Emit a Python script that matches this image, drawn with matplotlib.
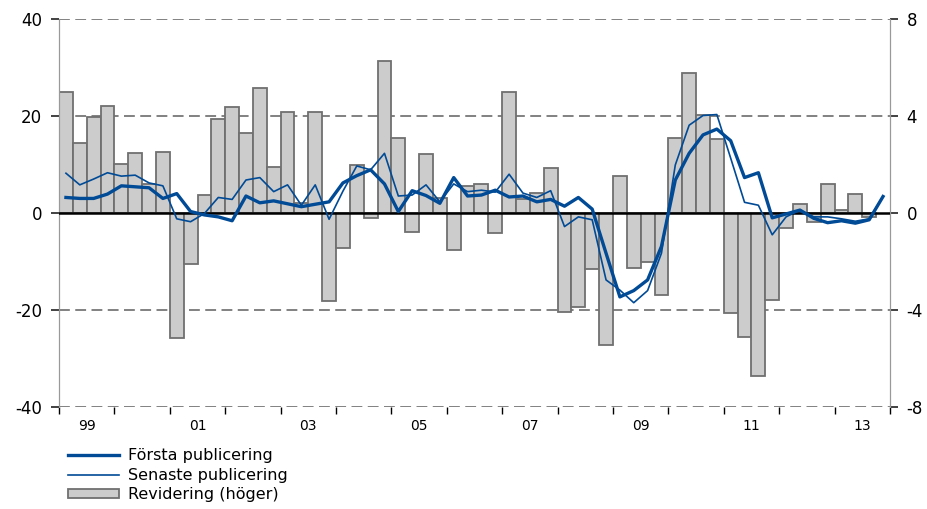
import numpy as np
import matplotlib
matplotlib.use('Agg')
import matplotlib.pyplot as plt
from matplotlib.patches import Patch
from matplotlib.lines import Line2D

plt.rcParams['axes.unicode_minus'] = False

# Quarterly data 1999 Q1 - 2013 Q4
forsta = [3.2, 3.0, 3.0, 3.9, 5.6, 5.4, 5.2, 3.0, 4.0, 0.3,
          -0.4, -0.8, -1.6, 3.5, 2.1, 2.5, 1.9, 1.3, 1.8, 2.3,
          6.2, 7.7, 8.9, 6.0, 0.3, 4.6, 3.6, 2.0, 7.3, 3.5,
          3.7, 4.7, 3.3, 3.5, 2.3, 2.8, 1.4, 3.2, 0.8, -8.3,
          -17.3, -16.0, -13.8, -6.9, 6.8, 12.3, 16.1, 17.3, 14.9, 7.3,
          8.3, -1.0, -0.2, 0.6, -1.1, -2.0, -1.6, -2.1, -1.4, 3.4]
senaste = [8.2, 5.8, 7.0, 8.3, 7.6, 7.8, 6.2, 5.6, -1.2, -1.8,
           -0.1, 3.2, 2.8, 6.8, 7.3, 4.4, 5.8, 1.6, 5.8, -1.3,
           4.5, 9.7, 8.9, 12.3, 3.5, 3.7, 5.8, 2.3, 6.0, 4.4,
           4.7, 4.3, 8.0, 4.1, 3.2, 4.6, -2.8, -0.8, -1.4, -13.8,
           -15.9, -18.5, -16.0, -8.3, 9.9, 18.1, 20.1, 20.3, 11.3, 2.2,
           1.6, -4.5, -0.8, 0.6, -0.8, -0.8, -1.2, -1.7, -1.2, 3.4]
revidering = [5.0, 2.9, 3.95, 4.43, 2.02, 2.49, 1.18, 2.53, -5.17, -2.1,
              0.74, 3.88, 4.36, 3.31, 5.14, 1.88, 4.15, 0.4, 4.18, -3.62,
              -1.46, 1.98, -0.22, 6.27, 3.08, -0.77, 2.42, 0.6, -1.53, 1.11,
              1.18, -0.84, 4.98, 0.56, 0.81, 1.87, -4.07, -3.86, -2.31, -5.44,
              1.54, -2.28, -2.03, -3.38, 3.08, 5.79, 4.04, 3.04, -4.11, -5.1,
              -6.72, -3.59, -0.6, 0.36, -0.36, 1.18, 0.11, 0.77, -0.16, np.nan]
year_labels = ['99', '01', '03', '05', '07', '09', '11', '13']

dark_blue = '#004a96'
x = np.arange(len(forsta))

fig = plt.figure(figsize=(9.28, 5.09), dpi=100)
ax = fig.add_axes([0.0636, 0.2004, 0.8954, 0.7623])
ax2 = ax.twinx()

# bars on the right axis, drawn behind the lines
ax2.bar(x, revidering, width=1.0, color='#cccccc', edgecolor='#707070', linewidth=1.3, zorder=2)
ax2.set_ylim(-8, 8)
ax2.set_yticks([-8, -4, 0, 4, 8])

for yy in [-20, 20, 40, -40]:
    ax2.axhline(yy / 5, color='#777777', linestyle=(0, (6, 3)), linewidth=1.3, zorder=1)

ax.set_zorder(ax2.get_zorder() + 1)
ax.patch.set_visible(False)
ax.axhline(0, color='black', linewidth=1.8, zorder=3)
ax.plot(x, senaste, color=dark_blue, linewidth=1.2, zorder=4)
ax.plot(x, forsta, color=dark_blue, linewidth=2.4, zorder=5)

ax.set_ylim(-40, 40)
ax.set_yticks([-40, -20, 0, 20, 40])
ax.set_xlim(-0.5, len(x) - 0.5)

# year boundary ticks, labels in the middle of every second year
ax.set_xticks(np.arange(-0.5, len(x), 4))
ax.set_xticklabels([])
ax.set_xticks(np.arange(1.5, len(x), 8), minor=True)
ax.set_xticklabels(year_labels, minor=True)
ax.tick_params(axis='x', which='minor', length=0, pad=9)
ax.tick_params(axis='x', which='major', length=5, width=1, color='#333333')

for a in (ax, ax2):
    a.spines['top'].set_visible(False)
    a.spines['bottom'].set_visible(False)
    a.spines['left'].set_color('#999999')
    a.spines['right'].set_color('#999999')
    a.tick_params(labelsize=12, colors='black')
ax.tick_params(axis='y', length=6, width=1.3, color='#333333', pad=6)
ax2.tick_params(axis='y', length=6, width=1.3, color='#333333', pad=6)

handles = [
    Line2D([], [], color=dark_blue, linewidth=2.4),
    Line2D([], [], color=dark_blue, linewidth=1.2),
    Patch(facecolor='#cccccc', edgecolor='#707070', linewidth=1.3),
]
labels = ['Första publicering', 'Senaste publicering', 'Revidering (höger)']
fig.legend(handles, labels, loc='upper left', bbox_to_anchor=(0.073, 0.119),
           frameon=False, fontsize=11.5, handlelength=3.2, handleheight=0.5,
           labelspacing=0.28, handletextpad=0.6, borderaxespad=0, borderpad=0)

fig.savefig('out.png', dpi=100)
